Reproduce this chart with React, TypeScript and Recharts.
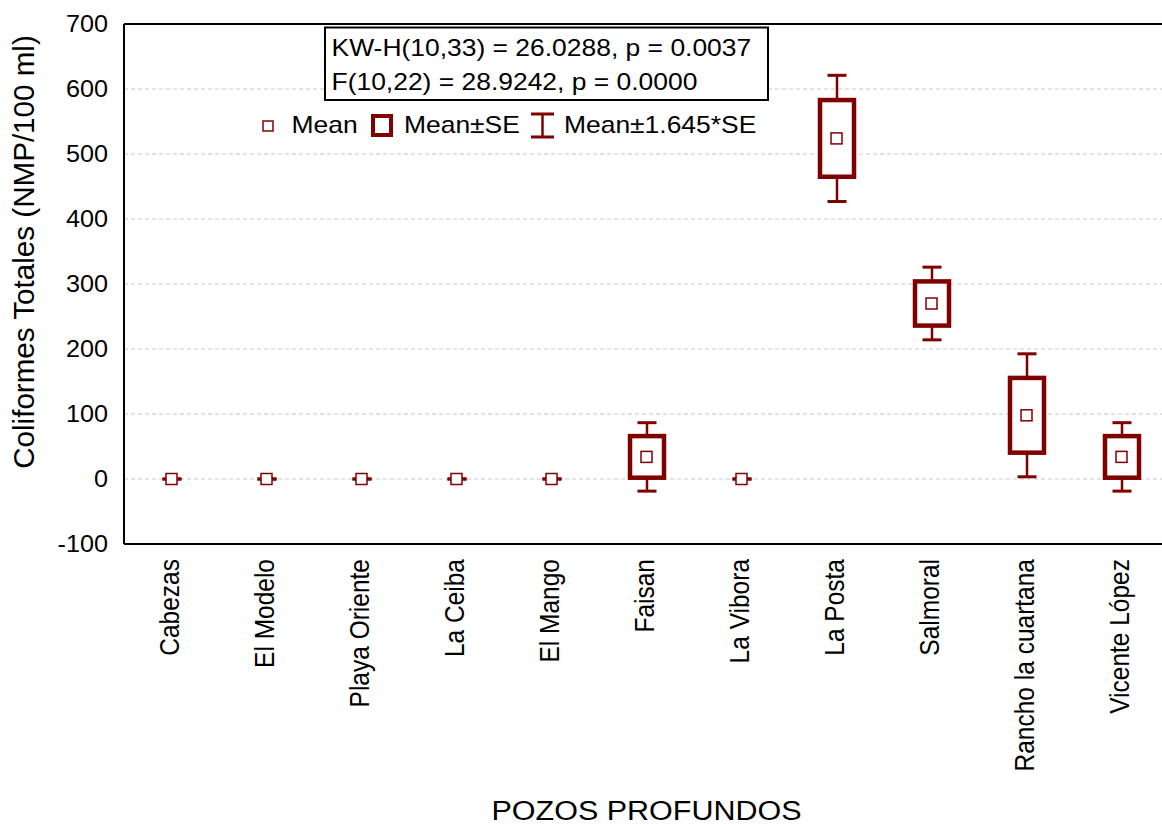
import { ComposedChart, Bar, Scatter, XAxis, YAxis, CartesianGrid } from "recharts";

// valores (media y error estandar por pozo)
const POZOS = [
  "Cabezas",
  "El Modelo",
  "Playa Oriente",
  "La Ceiba",
  "El Mango",
  "Faisan",
  "La Vibora",
  "La Posta",
  "Salmoral",
  "Rancho la cuartana",
  "Vicente López",
];
const MEDIAS = [0, 0, 0, 0, 0, 34, 0, 524, 270, 98, 34];
const ERRORES = [0, 0, 0, 0, 0, 32, 0, 59, 34, 57.5, 32];
const Y_TICKS = [-100, 0, 100, 200, 300, 400, 500, 600, 700];
const STATS = ["KW-H(10,33) = 26.0288, p = 0.0037", "F(10,22) = 28.9242, p = 0.0000"];
const LEYENDA = ["Mean", "Mean±SE", "Mean±1.645*SE"];

const Z = 1.645;
const ROJO = "#800000";
const FONT = "'Liberation Sans', Arial, sans-serif";

const data = POZOS.map((pozo, i) => ({
  pozo,
  media: MEDIAS[i],
  se: ERRORES[i],
  rango: [MEDIAS[i] - Z * ERRORES[i], MEDIAS[i] + Z * ERRORES[i]],
}));

function CajaBigote(props: any) {
  const { x, y, width, height } = props;
  const top = Math.min(y, y + height);
  const h = Math.abs(height || 0);
  const bottom = top + h;
  const cx = x + width / 2;
  const f = (Z - 1) / (2 * Z);
  const boxTop = top + h * f;
  const boxBottom = bottom - h * f;
  const cap = 19;
  return (
    <g>
      <line x1={cx} x2={cx} y1={top} y2={bottom} stroke={ROJO} strokeWidth={2.5} />
      <line x1={cx - cap / 2} x2={cx + cap / 2} y1={top} y2={top} stroke={ROJO} strokeWidth={3} />
      <line x1={cx - cap / 2} x2={cx + cap / 2} y1={bottom} y2={bottom} stroke={ROJO} strokeWidth={3} />
      {h > 0 && (
        <rect x={x} y={boxTop} width={width} height={boxBottom - boxTop} fill="#fff" stroke={ROJO} strokeWidth={4.5} />
      )}
    </g>
  );
}

function MarcaMedia(props: any) {
  const { cx, cy } = props;
  return <rect x={cx - 5.5} y={cy - 5.5} width={11} height={11} fill="#fff" stroke={ROJO} strokeWidth={1.5} />;
}

function TickY(props: any) {
  const { x, y, payload } = props;
  return (
    <g transform={`translate(${x},${y}) scale(1.05,1)`}>
      <text x={0} y={0} dy="0.35em" textAnchor="end" fontSize={24} fontFamily={FONT} fill="#000">
        {payload.value}
      </text>
    </g>
  );
}

function TickX(props: any) {
  const { x, y, payload } = props;
  return (
    <g transform={`translate(${x},${y + 15}) scale(1.1,1) rotate(-90)`}>
      <text x={0} y={0} dy={6.5} textAnchor="end" fontSize={24.5} fontFamily={FONT} fill="#000">
        {payload.value}
      </text>
    </g>
  );
}

function TituloY(props: any) {
  const { viewBox } = props;
  const cy = viewBox.y + viewBox.height / 2 - 32;
  return (
    <text
      transform={`translate(${viewBox.x + 33.5},${cy}) rotate(-90)`}
      textAnchor="middle"
      fontSize={29.6}
      fontFamily={FONT}
      fill="#000"
    >
      Coliformes Totales (NMP/100 ml)
    </text>
  );
}

function TituloX(props: any) {
  const { viewBox } = props;
  return (
    <g transform={`translate(${viewBox.x + viewBox.width / 2},${viewBox.y + 276}) scale(1.13,1)`}>
      <text x={0} y={0} textAnchor="middle" fontSize={27} fontFamily={FONT} fill="#000">
        POZOS PROFUNDOS
      </text>
    </g>
  );
}

function Texto({ x, y, children }: { x: number; y: number; children: string }) {
  return (
    <g transform={`translate(${x},${y}) scale(1.15,1)`}>
      <text x={0} y={0} fontSize={23} fontFamily={FONT} fill="#000">
        {children}
      </text>
    </g>
  );
}

export default function App() {
  return (
    <div style={{ position: "fixed", left: 0, top: 0, width: 1162, height: 825, overflow: "hidden", background: "#fff" }}>
      <ComposedChart
        width={1172}
        height={825}
        data={data}
        margin={{ top: 24, right: 3, bottom: 0, left: 0 }}
        style={{ fontFamily: FONT }}
      >
        <CartesianGrid xAxisId="b" vertical={false} stroke="#c8c8c8" strokeDasharray="4 3" />
        <XAxis
          xAxisId="b"
          dataKey="pozo"
          interval={0}
          height={281}
          tickSize={0}
          tickMargin={0}
          tickLine={false}
          axisLine={{ stroke: "#000", strokeWidth: 2 }}
          tick={<TickX />}
          label={{ content: <TituloX /> }}
        />
        <XAxis
          xAxisId="bm"
          dataKey="pozo"
          interval={0}
          mirror
          tick={false}
          tickSize={5}
          axisLine={false}
          tickLine={{ stroke: "#000", strokeWidth: 2 }}
        />
        <XAxis
          xAxisId="t"
          dataKey="pozo"
          orientation="top"
          interval={0}
          mirror
          tick={false}
          tickSize={5}
          axisLine={{ stroke: "#000", strokeWidth: 2 }}
          tickLine={{ stroke: "#000", strokeWidth: 2 }}
        />
        <YAxis
          type="number"
          domain={[-100, 700]}
          ticks={Y_TICKS}
          interval={0}
          width={124}
          tickSize={0}
          tickMargin={16}
          tickLine={false}
          axisLine={{ stroke: "#000", strokeWidth: 2 }}
          tick={<TickY />}
          label={{ content: <TituloY /> }}
        />
        <Bar xAxisId="b" dataKey="rango" barSize={34} shape={<CajaBigote />} isAnimationActive={false} />
        <Scatter xAxisId="b" dataKey="media" shape={<MarcaMedia />} isAnimationActive={false} />
      </ComposedChart>

      <svg width={1162} height={825} style={{ position: "absolute", left: 0, top: 0, pointerEvents: "none" }}>
        <rect x={325} y={27.5} width={443} height={72.5} fill="#fff" stroke="#000" strokeWidth={2} />
        <Texto x={331.5} y={56}>{STATS[0]}</Texto>
        <Texto x={331.5} y={90}>{STATS[1]}</Texto>

        <rect x={263} y={121} width={10} height={10} fill="#fff" stroke={ROJO} strokeWidth={1.5} />
        <Texto x={291.5} y={133.3}>{LEYENDA[0]}</Texto>
        <rect x={373} y={116} width={18} height={19} fill="#fff" stroke={ROJO} strokeWidth={4} />
        <Texto x={404} y={133.3}>{LEYENDA[1]}</Texto>
        <line x1={542.5} x2={542.5} y1={114} y2={137} stroke={ROJO} strokeWidth={2.5} />
        <line x1={531} x2={554} y1={114} y2={114} stroke={ROJO} strokeWidth={3} />
        <line x1={531} x2={554} y1={137} y2={137} stroke={ROJO} strokeWidth={3} />
        <Texto x={564} y={133.3}>{LEYENDA[2]}</Texto>
      </svg>
    </div>
  );
}
